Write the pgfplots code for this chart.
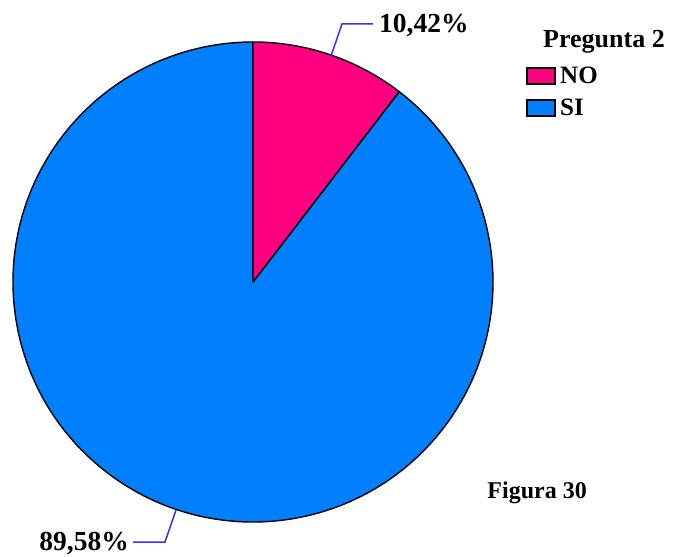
\documentclass[border=0pt]{standalone}
\usepackage{pgfplots}
\usepackage{pgfplotstable}
\pgfplotsset{compat=1.18}
\usepackage{fontspec}
\setmainfont{Liberation Serif}
\definecolor{cNO}{RGB}{255,0,128}
\definecolor{cSI}{RGB}{0,128,255}
\definecolor{cLead}{RGB}{51,51,255}
\pgfplotstableread{
label value
NO 10.42
SI 89.58
}\piedata
\begin{document}%
\begin{tikzpicture}
\pgfplotstablegetelem{0}{value}\of\piedata
\let\vNO\pgfplotsretval
\pgfplotstablegetelem{1}{value}\of\piedata
\let\vSI\pgfplotsretval
\pgfmathsetmacro{\dNO}{-3.6*\vNO}
\pgfmathsetmacro{\aNO}{90+\dNO}
\pgfmathsetmacro{\dSI}{-3.6*\vSI}
\begin{axis}[x=1bp, y=1bp, y dir=reverse,
  xmin=0, xmax=673, ymin=0, ymax=557,
  xtick=\empty, ytick=\empty,
  hide axis, clip=false]
\coordinate (BL) at (axis cs:0,557);
\coordinate (TR) at (axis cs:673,0);
% pie slices
\filldraw[fill=cSI, draw=black, line width=1.4bp, line join=round]
  (axis cs:253,282) -- ++(\aNO:240bp) arc[start angle=\aNO, delta angle=\dSI, radius=240bp] -- cycle;
\filldraw[fill=cNO, draw=black, line width=1.4bp, line join=round]
  (axis cs:253,282) -- ++(90:240bp) arc[start angle=90, delta angle=\dNO, radius=240bp] -- cycle;
% leader lines
\draw[cLead, line width=1.5bp] (axis cs:331,56) -- (axis cs:342,24) -- (axis cs:373,24);
\draw[cLead, line width=1.5bp] (axis cs:176,510) -- (axis cs:165,542) -- (axis cs:133,542);
% labels
\node[anchor=base west, inner sep=0pt, font=\fontsize{27.5bp}{30bp}\selectfont\bfseries] at (axis cs:379,33) {10,42\%};
\node[anchor=base east, inner sep=0pt, font=\fontsize{27.5bp}{30bp}\selectfont\bfseries] at (axis cs:129,550) {89,58\%};
% legend
\node[anchor=base west, inner sep=0pt, font=\fontsize{26bp}{30bp}\selectfont\bfseries] at (axis cs:543,48) {Pregunta 2};
\filldraw[fill=cNO, draw=black, line width=1.5bp] (axis cs:527,68) rectangle (axis cs:555,84);
\filldraw[fill=cSI, draw=black, line width=1.5bp] (axis cs:527,100) rectangle (axis cs:555,116);
\node[anchor=base west, inner sep=0pt, font=\fontsize{25bp}{30bp}\selectfont\bfseries] at (axis cs:560,84) {NO};
\node[anchor=base west, inner sep=0pt, font=\fontsize{25bp}{30bp}\selectfont\bfseries] at (axis cs:560,116) {SI};
% figure caption
\node[anchor=base east, inner sep=0pt, font=\fontsize{24bp}{30bp}\selectfont\bfseries] at (axis cs:587,498) {Figura 30};
\end{axis}
\pgfresetboundingbox
\path (BL) rectangle (TR);
\end{tikzpicture}%
\end{document}
